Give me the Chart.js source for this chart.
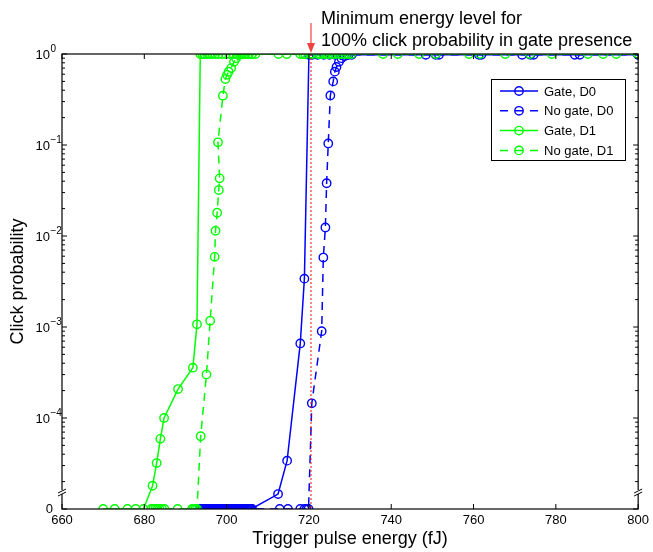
<!DOCTYPE html>
<html>
<head>
<meta charset="utf-8">
<script src="https://cdn.jsdelivr.net/npm/chart.js@4.4.1/dist/chart.umd.min.js"></script>
<style>
  html, body { margin: 0; padding: 0; background: #fff; }
</style>
</head>
<body>
<canvas id="clickchart" width="653" height="552"></canvas>
<script>
// energies in fJ, click probabilities (0 = no click, shown at the broken bottom of the log axis)
var gateD0Energy = [693.4, 693.9, 694.3, 694.8, 695.3, 695.9, 696.4, 696.9, 697.5, 698.0,
    698.6, 699.1, 699.7, 700.2, 700.8, 701.4, 701.9, 702.5, 703.1, 703.6,
    704.2, 704.8, 705.4, 706.0, 712.5, 714.7, 717.9, 718.9, 720.0, 720.8,
    722.1, 723.6, 725.0, 726.4, 727.8, 729.3, 748.4, 751.6, 761.3, 773.8, 784.6, 800.0];
var gateD0Prob = [0, 0, 0, 0, 0, 0, 0, 0, 0, 0,
    0, 0, 0, 0, 0, 0, 0, 0, 0, 0,
    0, 0, 0, 0, 1.46e-5, 3.4e-5, 6.6e-4, 3.4e-3, 0.98, 0.98,
    0.98, 0.98, 0.98, 0.98, 0.98, 0.98, 0.98, 0.98, 0.98, 0.98, 0.98, 0.98];

var noGateD0Energy = [693.6, 694.1, 694.6, 695.1, 695.6, 696.1, 696.7, 697.2, 697.8, 698.3,
    698.9, 699.4, 700.0, 700.5, 701.1, 701.6, 702.2, 702.8, 703.3, 703.9,
    704.5, 705.1, 705.7, 706.2, 712.9, 714.9, 717.9, 718.9, 719.4, 719.9,
    720.7, 723.1, 723.5, 724.0, 724.3, 724.7, 725.2, 725.9, 726.3, 726.7,
    727.3, 727.9, 728.7, 729.6, 730.4, 750.8, 761.9, 771.8, 774.6, 785.8, 800.0];
var noGateD0Prob = [0, 0, 0, 0, 0, 0, 0, 0, 0, 0,
    0, 0, 0, 0, 0, 0, 0, 0, 0, 0,
    0, 0, 0, 0, 0, 0, 0, 0, 0, 0,
    1.45e-4, 9.0e-4, 5.8e-3, 1.24e-2, 3.8e-2, 0.104, 0.35, 0.50, 0.64, 0.72,
    0.82, 0.90, 0.95, 0.98, 0.98, 0.98, 0.98, 0.98, 0.98, 0.98, 0.98];

var gateD1Energy = [670.0, 672.8, 675.9, 677.9, 679.8, 682.0, 683.0, 683.9, 684.8, 688.2,
    691.8, 692.8, 693.6, 694.1, 694.7, 695.3, 695.9, 696.5, 697.2, 698.0,
    698.9, 699.8, 700.7, 701.6, 702.5, 703.4, 704.3, 705.2, 706.1, 712.6,
    714.6, 717.9, 719.1, 720.3, 722.7, 724.1, 725.6, 727.2, 728.8, 730.3,
    738.0, 746.8, 758.9, 767.7, 779.0, 791.5, 800.0];
var gateD1Prob = [0, 0, 0, 0, 0, 1.8e-5, 3.2e-5, 5.9e-5, 1.0e-4, 2.08e-4,
    3.57e-4, 1.07e-3, 1, 1, 1, 1, 1, 1, 1, 1,
    1, 1, 1, 1, 1, 1, 1, 1, 1, 1,
    1, 1, 1, 1, 1, 1, 1, 1, 1, 1,
    1, 1, 1, 1, 1, 1, 1];

var noGateD1Energy = [681.7, 682.2, 682.7, 683.2, 683.7, 684.3, 684.9, 688.1, 691.6, 692.0,
    692.4, 692.8, 693.7, 695.1, 696.0, 697.1, 697.3, 697.7, 698.1, 698.3,
    697.9, 699.1, 699.7, 700.1, 700.5, 701.1, 701.8, 702.3, 703.0, 703.8,
    704.6, 705.4, 706.2, 707.0, 718.6, 720.9, 722.2, 723.4, 724.8, 726.4,
    727.9, 729.5, 741.6, 750.8, 761.6, 773.7, 787.8, 794.7, 800.0];
var noGateD1Prob = [0, 0, 0, 0, 0, 0, 0, 0, 0, 0,
    0, 0, 6.3e-5, 3.0e-4, 1.17e-3, 5.9e-3, 1.14e-2, 1.8e-2, 3.2e-2, 4.3e-2,
    0.107, 0.348, 0.53, 0.59, 0.64, 0.70, 0.82, 0.90, 0.975, 1,
    1, 1, 1, 1, 1, 1, 1, 1, 1, 1,
    1, 1, 1, 1, 1, 1, 1, 1, 1];

var seriesLabels = ['Gate, D0', 'No gate, D0', 'Gate, D1', 'No gate, D1'];
var xTickMin = 660, xTickMax = 800, xTickStep = 20;
var yExponents = [-5, -4, -3, -2, -1, 0];   // -5 is where "0" is drawn
var thresholdEnergy = 720.5;
var noteLines = ['Minimum energy level for', '100% click probability in gate presence'];

var zeroLevel = Math.pow(10, yExponents[0]);
var FONT = '"Liberation Sans", Arial, Helvetica, sans-serif';
Chart.defaults.font.family = FONT;
Chart.defaults.color = '#000';

function toPoints(xs, ys) {
    return xs.map(function (x, i) {
        return { x: x, y: ys[i] === 0 ? zeroLevel : ys[i] };
    });
}

function series(label, xs, ys, color, dashed, order) {
    return {
        label: label,
        data: toPoints(xs, ys),
        borderColor: color,
        backgroundColor: 'rgba(0,0,0,0)',
        borderWidth: 1.5,
        borderDash: dashed ? [8, 6] : [],
        pointRadius: 4.2,
        pointHoverRadius: 4.2,
        pointBorderWidth: 1.4,
        pointBorderColor: color,
        pointBackgroundColor: 'rgba(0,0,0,0)',
        fill: false,
        tension: 0,
        order: order
    };
}

var frame = {
    id: 'frame',
    afterDatasetsDraw: function (chart) {
        var ctx = chart.ctx, a = chart.chartArea;
        var xs = chart.scales.x, ys = chart.scales.y;
        ctx.save();

        // red dotted threshold line
        var tx = xs.getPixelForValue(thresholdEnergy);
        ctx.strokeStyle = '#e3120b';
        ctx.lineWidth = 1;
        ctx.setLineDash([2, 2]);
        ctx.beginPath();
        ctx.moveTo(tx, a.top);
        ctx.lineTo(tx, a.bottom);
        ctx.stroke();
        ctx.setLineDash([]);

        // box
        ctx.strokeStyle = '#000';
        ctx.lineWidth = 1.2;
        ctx.strokeRect(a.left, a.top, a.right - a.left, a.bottom - a.top);

        // inward ticks
        ctx.lineWidth = 1;
        ctx.beginPath();
        xs.ticks.forEach(function (t) {
            var px = xs.getPixelForValue(t.value);
            ctx.moveTo(px, a.bottom); ctx.lineTo(px, a.bottom - 5);
            ctx.moveTo(px, a.top); ctx.lineTo(px, a.top + 5);
        });
        yExponents.forEach(function (e) {
            var py = ys.getPixelForValue(Math.pow(10, e));
            ctx.moveTo(a.left, py); ctx.lineTo(a.left + 5, py);
            ctx.moveTo(a.right, py); ctx.lineTo(a.right - 5, py);
            if (e < 0) {
                for (var m = 2; m <= 9; m++) {
                    var pm = ys.getPixelForValue(m * Math.pow(10, e));
                    ctx.moveTo(a.left, pm); ctx.lineTo(a.left + 3, pm);
                    ctx.moveTo(a.right, pm); ctx.lineTo(a.right - 3, pm);
                }
            }
        });
        ctx.stroke();

        // axis break marks
        var by = a.bottom - 17;
        [a.left, a.right].forEach(function (bx) {
            ctx.fillStyle = '#fff';
            ctx.fillRect(bx - 2, by - 2, 4, 4);
            ctx.beginPath();
            ctx.moveTo(bx - 4, by + 1); ctx.lineTo(bx + 4, by - 3);
            ctx.moveTo(bx - 4, by + 4); ctx.lineTo(bx + 4, by);
            ctx.stroke();
        });

        // y labels: 0 and powers of ten
        ctx.fillStyle = '#000';
        ctx.textBaseline = 'middle';
        yExponents.forEach(function (e, i) {
            var py = ys.getPixelForValue(Math.pow(10, e));
            ctx.font = '13px ' + FONT;
            ctx.textAlign = 'right';
            if (i === 0) {
                ctx.fillText('0', 53, py);
                return;
            }
            ctx.fillText('10', 50, py + 1);
            ctx.font = '10px ' + FONT;
            ctx.textAlign = 'left';
            ctx.fillText(e === 0 ? '0' : '\u2212' + (-e), 50.5, py - 5);
        });

        // legend
        var lx = 491, ly = 79, lw = 134, lh = 81;
        ctx.fillStyle = '#fff';
        ctx.fillRect(lx, ly, lw, lh);
        ctx.strokeStyle = '#000';
        ctx.lineWidth = 1;
        ctx.strokeRect(lx + 0.5, ly + 0.5, lw, lh);
        chart.data.datasets.forEach(function (ds, i) {
            var ry = ly + 12 + i * 19.8;
            ctx.strokeStyle = ds.borderColor;
            ctx.lineWidth = ds.borderWidth;
            ctx.setLineDash(ds.borderDash.length ? [8, 7] : []);
            ctx.beginPath();
            ctx.moveTo(lx + 9, ry); ctx.lineTo(lx + 47, ry);
            ctx.stroke();
            ctx.setLineDash([]);
            ctx.lineWidth = ds.pointBorderWidth;
            ctx.beginPath();
            ctx.arc(lx + 28, ry, ds.pointRadius, 0, Math.PI * 2);
            ctx.stroke();
            ctx.fillStyle = '#000';
            ctx.font = '13px ' + FONT;
            ctx.textAlign = 'left';
            ctx.textBaseline = 'middle';
            ctx.fillText(ds.label, lx + 53, ry + 1);
        });

        // annotation with arrow
        ctx.fillStyle = '#000';
        ctx.font = '18px ' + FONT;
        ctx.textAlign = 'left';
        ctx.textBaseline = 'alphabetic';
        ctx.fillText(noteLines[0], tx + 10, 24);
        ctx.fillText(noteLines[1], tx + 10, 46);
        ctx.strokeStyle = '#f04040';
        ctx.fillStyle = '#f04040';
        ctx.lineWidth = 1.2;
        ctx.beginPath();
        ctx.moveTo(tx, 23); ctx.lineTo(tx, 46);
        ctx.stroke();
        ctx.beginPath();
        ctx.moveTo(tx - 4, 43); ctx.lineTo(tx + 4, 43); ctx.lineTo(tx, a.top - 1);
        ctx.closePath();
        ctx.fill();

        ctx.restore();
    }
};

var clickctx = document.getElementById('clickchart').getContext('2d');
var clickchart = new Chart(clickctx, {
    type: 'line',
    data: {
        datasets: [
            series(seriesLabels[0], gateD0Energy, gateD0Prob, '#0000ff', false, 2),
            series(seriesLabels[1], noGateD0Energy, noGateD0Prob, '#0000ff', true, 3),
            series(seriesLabels[2], gateD1Energy, gateD1Prob, '#00ff00', false, 0),
            series(seriesLabels[3], noGateD1Energy, noGateD1Prob, '#00ff00', true, 1)
        ]
    },
    options: {
        responsive: false,
        animation: false,
        events: [],
        layout: { padding: { left: 0, top: 54, right: 11, bottom: 0 } },
        plugins: { legend: { display: false }, tooltip: { enabled: false } },
        scales: {
            x: {
                type: 'linear',
                min: xTickMin,
                max: xTickMax,
                grid: { display: false, drawTicks: false },
                border: { display: false },
                ticks: { stepSize: xTickStep, padding: 4, font: { size: 13 }, maxRotation: 0 },
                title: { display: true, text: 'Trigger pulse energy (fJ)', font: { size: 18 }, padding: { top: 0, bottom: 2 } },
                afterFit: function (scale) { scale.height = 43; }
            },
            y: {
                type: 'logarithmic',
                min: zeroLevel,
                max: 1,
                grid: { display: false, drawTicks: false },
                border: { display: false },
                ticks: { display: false },
                title: { display: true, text: 'Click probability', font: { size: 18 }, padding: { top: 7, bottom: 0 } },
                afterFit: function (scale) { scale.width = 62; }
            }
        }
    },
    plugins: [frame]
});
</script>
</body>
</html>
